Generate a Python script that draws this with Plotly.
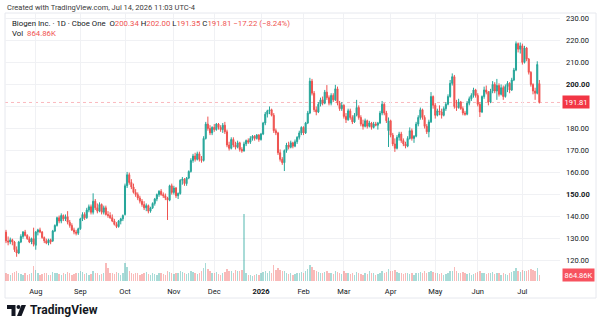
import pandas as pd
import plotly.graph_objects as go

# ---------------- data ----------------
holidays = ["2025-09-01", "2025-11-27", "2025-12-25", "2026-01-01", "2026-01-19",
            "2026-02-16", "2026-04-03", "2026-05-25", "2026-06-19", "2026-07-03"]
dates = [d for d in pd.bdate_range("2025-07-14", "2026-07-14") if d.strftime("%Y-%m-%d") not in holidays]

opens = [133,129,128.5,129.5,128.5,125,123.5,128.5,131,133,
         131.5,130,128.5,130,127,133,134,133,130.5,129,
         128,129.5,129,133.5,136,139.5,138,140.5,139,140,
         137.5,136,134,133,132.5,134.5,139,141,139.5,143,
         144.5,142,147,144,142.5,145.5,142,144,141,140.5,
         139.5,138,136.5,135.5,138,139,141,154,159,155.5,
         153.5,151,150,148.5,147,145.5,144,145,142.5,144,
         146,148,150,151.5,150,149.5,148.5,147.5,154,151,
         153,149.5,150.5,156.5,157,155,157.5,160.5,165.5,167.5,
         166,168.5,166,165.5,175.5,182,180,178,180.5,179.5,
         182,180.5,179.5,181.5,178.5,172.5,171,175,172.5,171.5,
         173.5,170.5,169.8,173,174.5,173.8,175.5,176.5,175.5,177,
         175,177.5,182.5,186.5,188,188.5,186,179,178,169,
         166,164.5,170,172.5,171.5,173.5,172,174,176,178,
         180.5,178,182.5,187,201.5,196,188.5,187.5,191,193,
         191.5,196.5,194,191.5,195,193,198,191.5,189,190.5,
         185.5,184,188,185,183,186,189.5,185,182,181,
         183.5,181,182.5,180.5,182,181.5,182.5,187,191,187,
         179,183.5,177,173,171,176,177.5,174.5,173,172,
         175.5,179,175.5,176.5,182,185,188.5,185,181,178.5,
         183,194.5,190.5,186,188,187.5,186,189,191,194.5,
         200.5,203.5,190,189.5,192,189,187,186.5,191.5,193.5,
         195,197.5,195,191,187.5,194.5,197.5,196.5,192,197,
         200,197,199.5,195.5,198.5,194.5,199,200.5,197.5,202,
         206.5,218.5,216,217.5,210,216.5,211.5,205.5,200,197,
         196,200.34]

highs = [134,131,130.5,130,129,126.5,129,132,133.5,134,
         132,131,130.5,135,133.5,134.5,135,133.5,131,130,
         130,130,134,136.5,140,140.5,141.5,141,141,142.5,
         138.5,137,135,134,135,139.5,142,142,144,145.5,
         145.5,150.6,148,146,146.5,146,145,145,142.5,142,
         141,139,137.5,138.5,139.5,141,155,160.3,160,157,
         155,152.5,151,149.5,148,147,146,145.5,144.5,146.5,
         148.5,150.5,152,152.5,151,150.5,149,154.5,155,154,
         153.5,151,157,158,157.5,158,161,166.5,168.5,169,
         169.5,169.5,167.5,176.5,183,185.4,181.5,181,182,182.5,
         182.5,181.5,182.5,183,179.5,174,176,176,174,174.5,
         174,171.5,174,175,175.5,176.5,177,177,177.5,177.5,
         178,183,187.5,188.5,190,189,187,180,178.5,170.5,
         167,170.5,173.5,174,174.5,174,175,176.5,179,181,
         181,183,188,203,202.5,197,190,192,194,194.5,
         197.5,199.7,195,196,196,199.8,199,192.5,192,191,
         187,189,189,186,187,193,190.5,186,184,184.5,
         184,183.5,183,183,183,183,188,192.5,191.5,188,
         185,184,178,175.5,177,178.5,178.5,175.5,174,176.5,
         180.5,180,177,183,186,189.5,189,186,182,184,
         196.5,195,191.5,189,190.5,189,190,192,195.5,202,
         205,204.3,193,193.5,192.5,190,188,192.5,194.5,196,
         198.5,198,196,192,195,199,199.5,197,198,201.5,
         201,202.5,200.5,200,199.5,200,201.5,201,203,207.5,
         219.5,219,219,218.5,217.5,217,212,206,200.5,198.5,
         210.5,202]

lows = [128,127,127.5,127,124,121.8,123,128,130,131,
        129.5,128,127.5,126.5,125,131.5,132.5,130,128,127.5,
        127,127.5,128.5,133,135.5,137,137,138,138,136.5,
        135,133.5,132,131.5,131.7,134,138,138.5,139,142,
        141,141,143,141.5,142,141,141,140.5,139.5,139,
        137.5,136,134.8,135,136.5,138,140.5,153,154.5,152.5,
        150.5,149,147.5,146,144.5,143,142.5,141.5,141.8,143.5,
        145,147,149,149.5,148.5,147.5,138.5,147,150,150,
        148.5,148,150,154.5,154,154,157,160,164.5,165,
        165.5,165,164.5,165,175,179,177,177,178.5,179,
        179.5,178.5,178,177.5,171.5,170,170.5,171.5,170.5,171,
        169.5,169,169.5,172,173,173,174.5,174.5,175,174,
        174.5,177,181.5,185,186.5,185.5,178,177,168,165,
        163.5,160.7,169,170.5,171,171,171.5,173,175,177,
        177,177.5,182,186.5,195,187.5,186,187,190,190.5,
        191,193,190.5,190.5,192,192.5,190.5,188,188,184.5,
        182.5,183.5,184,182,182.5,185.5,184,181,179.5,180.5,
        180,180.5,179.5,180,181,179.5,182,186,186,182.5,
        171.6,176,172,169.4,170.5,174.5,173.5,172,171,171.5,
        175,174.5,173.5,176,181,184,184,180,177.5,176,
        182.5,189,184.5,185.5,186,184.5,185.5,188,190.5,194,
        199.5,189,188,189,188.5,186,185.8,186,190.5,192.5,
        194,194,190,185.2,187,193.5,195.5,190.5,191.5,196,
        196,193,194.5,195,193,194,196.5,196,197,201.5,
        206,214.5,214,209,209.5,210.5,204.5,199,195.5,193,
        195.5,191.35]

closes = [129,128.5,129.5,128.5,125,123.5,128.5,131,133,131.5,
          130,128.5,130,127.5,133,134,133,130.5,129,128,
          129.5,128.5,133.5,136,139.5,138,140.5,139,140,137.5,
          136,134,133,132.5,134.5,139,141,139.5,143,144.5,
          142,147,144,142.5,145.5,142,144,141,140.5,139.5,
          138,136.5,135.5,138,139,140.5,154,159,155.5,153.5,
          151,150,148.5,147,145.5,144,145,142.5,144,146,
          148,150,151.5,150,149.5,148.5,147.5,154,151,153,
          149.5,150.5,156.5,157,155,157.5,160.5,165.5,167.5,166,
          168.5,166,165.5,175.5,182,180,178,180.5,179.5,182,
          180.5,179.5,181.5,178.5,172.5,171,175,172.5,171.5,173.5,
          170.5,169.8,173,174.5,173.8,175.5,176.5,175.5,177,175,
          177.5,182.5,186.5,188,188.5,186,179,178,169,166,
          164.5,170,172.5,171.5,173.5,172,174,176,178,180.5,
          178,182.5,187,201.5,196,188.5,187.5,191,193,191.5,
          196.5,194,191.5,195,193,198,191.5,189,190.5,185.5,
          184,188,185,183,186,189.5,185,182,181,183.5,
          181,182.5,180.5,182,181.5,182.5,187,191,187,183.5,
          183.5,177,173,171,176,177.5,174.5,173,172,175.5,
          179,175.5,176.5,182,185,188.5,185,181,178.5,183,
          194.5,190.5,186,188,187.5,186,189,191,194.5,200.5,
          203.5,190,189.5,192,189,187,186.5,191.5,193.5,195,
          197.5,195,191,187.5,194.5,197.5,196.5,192,197,200,
          197,199.5,195.5,198.5,194.5,199,200.5,197.5,202,206.5,
          218.5,216,217.5,210,216.5,211.5,205.5,200,197,196,
          209.03,191.81]

volumes_m = [1.3,1.1,1.0,1.2,1.4,1.6,1.3,1.1,1.0,1.2,
             1.0,1.1,1.3,2.4,1.8,1.2,1.0,1.1,1.3,1.2,
             1.0,0.9,1.4,1.2,1.3,1.1,1.0,1.2,1.1,1.4,
             1.2,1.0,1.1,1.3,1.2,1.6,1.4,1.1,1.2,1.0,
             1.1,1.5,1.3,1.2,1.0,1.1,1.2,2.8,2.0,1.3,
             1.2,1.1,1.4,1.2,1.0,1.3,2.9,2.2,1.5,1.2,
             1.1,1.3,1.2,1.0,1.1,1.2,1.4,1.1,1.0,1.2,
             1.1,1.0,1.2,1.3,1.1,1.0,1.6,1.4,1.2,1.1,
             1.3,1.2,1.5,1.4,1.2,1.1,1.3,1.6,1.4,1.2,
             1.1,1.3,1.5,2.0,2.8,1.9,1.5,1.3,1.2,1.4,
             1.1,1.0,1.2,1.4,1.9,1.6,1.5,1.3,1.7,1.5,
             1.6,1.8,10.5,1.3,1.0,0.9,0.8,1.0,1.1,0.9,
             1.2,1.4,1.6,1.3,1.5,1.2,2.5,1.7,2.0,1.8,
             1.5,1.6,1.3,1.1,1.2,1.0,1.1,1.3,1.2,1.4,
             1.3,1.5,1.9,2.5,2.2,1.8,1.6,1.4,1.3,1.2,
             1.4,1.5,1.3,1.2,1.1,1.6,1.4,1.2,1.1,1.5,
             1.3,1.2,1.1,1.3,1.0,1.4,1.2,1.1,1.0,1.2,
             1.1,1.6,1.3,1.2,1.0,1.1,1.3,1.5,1.2,1.4,
             1.9,1.6,1.5,1.7,1.4,1.3,1.2,1.1,1.3,1.2,
             1.1,1.2,1.0,1.3,1.2,1.4,1.3,1.5,1.2,1.4,
             1.6,1.4,1.3,1.2,1.1,1.2,1.0,1.1,1.3,1.5,
             1.6,2.2,1.5,1.3,1.2,1.4,1.3,1.1,1.2,1.0,
             1.1,1.2,1.4,1.5,1.3,1.2,1.1,1.3,1.2,1.4,
             1.1,1.3,1.2,1.0,1.2,1.1,1.0,1.2,1.4,1.5,
             2.0,1.6,1.4,1.7,1.5,1.6,1.8,1.9,1.7,1.6,
             2.0,0.86486]

price_ticks = [120, 130, 140, 150, 160, 170, 180, 190, 200, 210, 220, 230]

n = len(closes)
assert len(dates) == n == len(opens) == len(highs) == len(lows) == len(volumes_m)
idx = list(range(n))
volumes = [v * 1e6 for v in volumes_m]

# month tick positions (first trading day of each month)
month_idx, month_txt = [], []
for i, d in enumerate(dates):
    if i > 0 and d.month != dates[i - 1].month:
        month_idx.append(i)
        month_txt.append("<b>2026</b>" if d.month == 1 else d.strftime("%b"))

# ---------------- style ----------------
UP = "#26a69a"
DN = "#ef5350"
UPV = "rgba(38,166,154,0.4)"
DNV = "rgba(239,83,80,0.4)"
TXT = "#131722"
GRID = "#f0f1f4"
FONT = "Roboto"

W, H = 600, 328
L, R, T, B = 5, 40, 13, 47
PW, PH = W - L - R, H - T - B


def px(xp):
    return (xp - L) / PW


def py(yp):
    return (H - B - yp) / PH


fig = go.Figure()
fig.add_trace(go.Bar(
    x=idx, y=volumes, yaxis="y2", width=0.7,
    marker=dict(color=[UPV if c >= o else DNV for o, c in zip(opens, closes)], line=dict(width=0)),
    hoverinfo="skip", showlegend=False))
fig.add_trace(go.Candlestick(
    x=idx, open=opens, high=highs, low=lows, close=closes,
    increasing=dict(line=dict(color=UP, width=1), fillcolor=UP),
    decreasing=dict(line=dict(color=DN, width=1), fillcolor=DN),
    whiskerwidth=0, showlegend=False))

last = closes[-1]
fig.add_shape(type="line", xref="paper", x0=0, x1=1, yref="y", y0=last, y1=last,
              line=dict(color="rgba(242,54,69,0.35)", width=1, dash="dot"), layer="below")

# frame
fig.add_shape(type="rect", xref="paper", yref="paper", x0=0, x1=px(596), y0=py(298), y1=py(13),
              line=dict(color="#e6e8ee", width=1), layer="below")

ann = []
ann.append(dict(xref="paper", yref="paper", x=px(5), y=py(7), xanchor="left", yanchor="middle",
                text="Created with TradingView.com, Jul 14, 2026 11:03 UTC-4",
                showarrow=False, font=dict(size=7.5, color="#3b3b3b", family=FONT)))
r = lambda s: f"<span style='color:{DN}'>{s}</span>"
legend = ("Biogen Inc. · 1D · Cboe One  O" + r("200.34") + " H" + r("202.00") +
          " L" + r("191.35") + " C" + r("191.81") + " " + r("−17.22 (−8.24%)"))
ann.append(dict(xref="paper", yref="paper", x=px(10), y=py(24), xanchor="left", yanchor="middle",
                text=legend, showarrow=False, font=dict(size=7.8, color=TXT, family=FONT)))
ann.append(dict(xref="paper", yref="paper", x=px(10), y=py(33), xanchor="left", yanchor="middle",
                text="Vol  " + r("864.86K"), showarrow=False, font=dict(size=7.8, color=TXT, family=FONT)))
ann.append(dict(xref="paper", yref="y", x=px(562), y=last, xanchor="left", yanchor="middle",
                text="191.81", showarrow=False, bgcolor="#f23645", borderpad=1.5,
                font=dict(size=7.5, color="white", family=FONT)))
ann.append(dict(xref="paper", yref="y2", x=px(562), y=volumes[-1], xanchor="left", yanchor="middle",
                text="864.86K", showarrow=False, bgcolor="#f7525f", borderpad=1.5,
                font=dict(size=7.5, color="white", family=FONT)))
ann.append(dict(xref="paper", yref="paper", x=px(28), y=py(310), xanchor="left", yanchor="middle",
                text="<b>TradingView</b>", showarrow=False, font=dict(size=12, color="#131722", family=FONT)))

# logo shapes
fig.add_shape(type="path", xref="paper", yref="paper", fillcolor="#131722", line=dict(width=0),
              path=f"M {px(7)},{py(305)} L {px(15.5)},{py(305)} L {px(15.5)},{py(316)} L {px(11.5)},{py(316)} "
                   f"L {px(11.5)},{py(309)} L {px(7)},{py(309)} Z")
fig.add_shape(type="circle", xref="paper", yref="paper", fillcolor="#131722", line=dict(width=0),
              x0=px(16.5), x1=px(20.5), y0=py(309), y1=py(305))
fig.add_shape(type="path", xref="paper", yref="paper", fillcolor="#131722", line=dict(width=0),
              path=f"M {px(21.5)},{py(305)} L {px(26)},{py(305)} L {px(21.5)},{py(316)} L {px(17)},{py(316)} Z")

ymin = 230 - (H - B - 18.3) / 2.204
ymax = 230 + (18.3 - T) / 2.204


def tick_label(v):
    if v == 190:  # hidden behind the last-price label in the reference
        return ""
    s = f"{v:.2f}"
    return f"<b>{s}</b>" if v in (150, 200) else s


fig.update_layout(
    width=W, height=H, margin=dict(l=L, r=R, t=T, b=B),
    paper_bgcolor="white", plot_bgcolor="white",
    font=dict(family=FONT, size=7.5, color=TXT),
    annotations=ann, showlegend=False, bargap=0,
    xaxis=dict(range=[-0.47, (560 - 6) / 2.125], tickvals=month_idx, ticktext=month_txt,
               showgrid=True, gridcolor=GRID, gridwidth=1, zeroline=False, showline=False,
               ticks="outside", ticklen=3, tickcolor="rgba(0,0,0,0)",
               rangeslider=dict(visible=False), tickfont=dict(size=7.5, color=TXT),
               fixedrange=True),
    yaxis=dict(side="right", range=[ymin, ymax], tickvals=price_ticks,
               ticktext=[tick_label(v) for v in price_ticks],
               showgrid=True, gridcolor=GRID, gridwidth=1, zeroline=False, showline=False,
               ticks="", ticklabelstandoff=5, tickfont=dict(size=7.5, color=TXT)),
    yaxis2=dict(overlaying="y", range=[0, 42e6], visible=False),
)

fig.write_html("out.html")
